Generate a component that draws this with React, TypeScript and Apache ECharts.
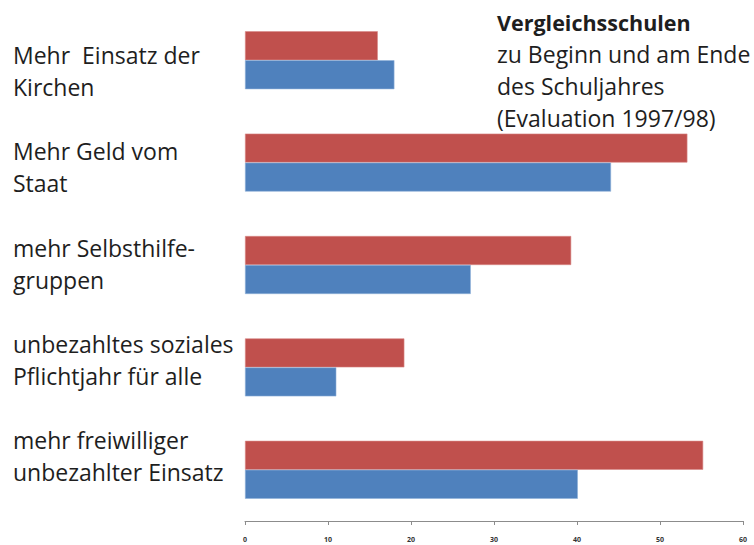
import React, { useEffect, useRef } from "react";
import * as echarts from "echarts";

const categories = [
  "Mehr  Einsatz der\nKirchen",
  "Mehr Geld vom\nStaat",
  "mehr Selbsthilfe-\ngruppen",
  "unbezahltes soziales\nPflichtjahr für alle",
  "mehr freiwilliger\nunbezahlter Einsatz",
];
const endValues = [16, 53.3, 39.3, 19.2, 55.2];
const startValues = [18, 44.1, 27.2, 11, 40.1];
const xTicks = [0, 10, 20, 30, 40, 50, 60];
const titleLines = ["Vergleichsschulen", "zu Beginn und am Ende", "des Schuljahres", "(Evaluation 1997/98)"];

export default function App() {
  const ref = useRef<HTMLDivElement>(null);
  useEffect(() => {
    if (!ref.current) return;
    const chart = echarts.init(ref.current, undefined, { renderer: "svg" });
    const font = "'Open Sans', Lato, sans-serif";
    chart.setOption({
      animation: false,
      textStyle: { fontFamily: font },
      grid: [
        { left: 245, right: 11, top: 9, bottom: 24, containLabel: false, outerBoundsMode: "none" },
        { left: 245, right: 11, top: 23, bottom: 41, containLabel: false, outerBoundsMode: "none" },
      ],
      xAxis: [
        {
          type: "value",
          gridIndex: 0,
          min: xTicks[0],
          max: xTicks[xTicks.length - 1],
          interval: 10,
          axisLine: { show: true, lineStyle: { color: "#8c8c8c", width: 1 } },
          axisTick: { show: true, length: 4, lineStyle: { color: "#8c8c8c" } },
          splitLine: { show: false },
          axisLabel: { fontSize: 7, fontWeight: "bold", color: "#333", margin: 15, fontFamily: font },
        },
        {
          type: "value",
          gridIndex: 1,
          min: 0,
          max: 60,
          show: false,
        },
      ],
      yAxis: [
        {
          type: "category",
          gridIndex: 0,
          inverse: true,
          data: categories,
          axisLine: { show: false },
          axisTick: { show: false },
          axisLabel: { show: false },
        },
        {
          type: "category",
          gridIndex: 1,
          inverse: true,
          data: categories,
          axisLine: { show: false },
          axisTick: { show: false },
          splitLine: { show: false },
          axisLabel: {
            align: "left",
            margin: 232,
            fontSize: 23,
            lineHeight: 32,
            color: "#1e1e1e",
            fontFamily: font,
          },
        },
      ],
      series: [
        {
          name: "Ende",
          type: "bar",
          xAxisIndex: 0,
          yAxisIndex: 0,
          data: endValues,
          barWidth: 29,
          barGap: "0%",
          itemStyle: { color: "#C0504D", borderColor: "#d98a88", borderWidth: 0.6 },
        },
        {
          name: "Beginn",
          type: "bar",
          xAxisIndex: 0,
          yAxisIndex: 0,
          data: startValues,
          barWidth: 29,
          barGap: "0%",
          itemStyle: { color: "#4F81BD", borderColor: "#8fb0d8", borderWidth: 0.6 },
        },
      ],
      graphic: [
        {
          type: "text",
          left: 497,
          top: 6,
          style: {
            text: `{b|${titleLines[0]}}\n${titleLines.slice(1).join("\n")}`,
            font: `23px ${font}`,
            fill: "#1e1e1e",
            lineHeight: 32,
            rich: { b: { fontWeight: "bold", fontSize: 21.5, lineHeight: 32, fontFamily: font, fill: "#1e1e1e" } },
          },
        },
      ],
    });
    return () => chart.dispose();
  }, []);
  return <div ref={ref} style={{ width: 754, height: 545, position: "absolute", left: 0, top: 0 }} />;
}
